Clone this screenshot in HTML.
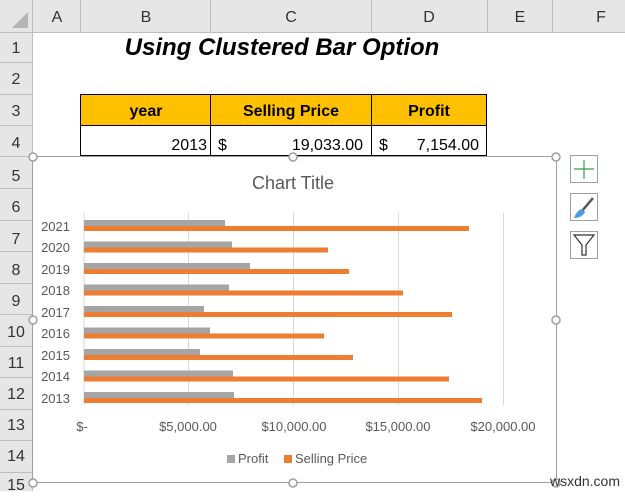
<!DOCTYPE html>
<html><head><meta charset="utf-8"><style>
body{margin:0;width:625px;height:491px;overflow:hidden;background:#fff;font-family:"Liberation Sans",sans-serif}
</style></head><body>
<svg width="625" height="491" xmlns="http://www.w3.org/2000/svg" font-family="Liberation Sans, sans-serif">
<rect width="625" height="491" fill="#fff"/>
<!-- headers -->
<rect x="0" y="0" width="625" height="32" fill="#e6e6e6"/>
<rect x="0" y="0" width="32" height="491" fill="#e6e6e6"/>
<polygon points="28,12 28,28 12,28" fill="#b5b5b5"/>
<g stroke="#bdbdbd" stroke-width="1">
<line x1="0" y1="32.5" x2="625" y2="32.5"/>
<line x1="32.5" y1="0" x2="32.5" y2="491"/>
<line x1="80.5" y1="0" x2="80.5" y2="32"/><line x1="210.5" y1="0" x2="210.5" y2="32"/>
<line x1="371.5" y1="0" x2="371.5" y2="32"/><line x1="487.5" y1="0" x2="487.5" y2="32"/>
<line x1="552.5" y1="0" x2="552.5" y2="32"/>
<line x1="0" y1="62.5" x2="32" y2="62.5"/><line x1="0" y1="94.5" x2="32" y2="94.5"/>
<line x1="0" y1="125.5" x2="32" y2="125.5"/><line x1="0" y1="156.5" x2="32" y2="156.5"/>
<line x1="0" y1="188.5" x2="32" y2="188.5"/><line x1="0" y1="220.5" x2="32" y2="220.5"/>
<line x1="0" y1="251.5" x2="32" y2="251.5"/><line x1="0" y1="283.5" x2="32" y2="283.5"/>
<line x1="0" y1="314.5" x2="32" y2="314.5"/><line x1="0" y1="346.5" x2="32" y2="346.5"/>
<line x1="0" y1="377.5" x2="32" y2="377.5"/><line x1="0" y1="409.5" x2="32" y2="409.5"/>
<line x1="0" y1="440.5" x2="32" y2="440.5"/><line x1="0" y1="472.5" x2="32" y2="472.5"/>
</g>
<g font-size="16" fill="#333" text-anchor="middle">
<text x="57" y="22">A</text><text x="146" y="22">B</text><text x="291" y="22">C</text>
<text x="429" y="22">D</text><text x="520" y="22">E</text><text x="601" y="22">F</text>
<text x="16" y="53">1</text><text x="16" y="84">2</text><text x="16" y="116">3</text>
<text x="16" y="148">4</text><text x="16" y="181">5</text><text x="16" y="212">6</text>
<text x="16" y="244">7</text><text x="16" y="275">8</text><text x="16" y="306">9</text>
<text x="16" y="337">10</text><text x="16" y="368">11</text><text x="16" y="399">12</text>
<text x="16" y="430">13</text><text x="16" y="461">14</text><text x="16" y="490">15</text>
</g>
<text x="282" y="55" font-size="24" font-weight="bold" font-style="italic" text-anchor="middle" fill="#000">Using Clustered Bar Option</text>
<!-- table -->
<rect x="80.5" y="94.5" width="406" height="31" fill="#ffc000" stroke="#000"/>
<rect x="80.5" y="125.5" width="406" height="30" fill="#fff" stroke="#000"/>
<g stroke="#000"><line x1="210.5" y1="94" x2="210.5" y2="156"/><line x1="371.5" y1="94" x2="371.5" y2="156"/></g>
<g font-size="16" font-weight="bold" text-anchor="middle" fill="#000">
<text x="146" y="116">year</text><text x="291" y="116">Selling Price</text><text x="429" y="116">Profit</text></g>
<g font-size="16" fill="#000">
<text x="207" y="150" text-anchor="end">2013</text><text x="218" y="150">$</text>
<text x="363" y="150" text-anchor="end">19,033.00</text><text x="379" y="150">$</text>
<text x="479" y="150" text-anchor="end">7,154.00</text></g>
<!-- chart -->
<rect x="32.5" y="156.5" width="524" height="326" fill="#fff" stroke="#a0a0a0"/>
<g stroke="#a0a0a0" stroke-width="1.5" fill="#fff">
<circle cx="33" cy="157" r="4"/><circle cx="293" cy="157" r="4"/><circle cx="556" cy="157" r="4"/>
<circle cx="33" cy="320" r="4"/><circle cx="556" cy="320" r="4"/>
<circle cx="33" cy="483" r="4"/><circle cx="293" cy="483" r="4"/><circle cx="556" cy="483" r="4"/>
</g>
<text x="293" y="189" font-size="18" fill="#595959" text-anchor="middle">Chart Title</text>
<g stroke="#d9d9d9"><line x1="84" y1="213" x2="84" y2="405"/><line x1="188.5" y1="213" x2="188.5" y2="405"/>
<line x1="293.5" y1="213" x2="293.5" y2="405"/><line x1="398.5" y1="213" x2="398.5" y2="405"/><line x1="503.5" y1="213" x2="503.5" y2="405"/></g>
<g fill="#a5a5a5">
<rect x="84" y="220" width="141" height="6"/><rect x="84" y="241.5" width="148" height="6"/>
<rect x="84" y="263" width="166" height="6"/><rect x="84" y="284.5" width="145" height="6"/>
<rect x="84" y="306" width="120" height="6"/><rect x="84" y="327.5" width="126" height="6"/>
<rect x="84" y="349" width="116" height="6"/><rect x="84" y="370.5" width="149" height="6"/>
<rect x="84" y="392" width="150" height="6"/></g>
<g fill="#ed7d31">
<rect x="84" y="226" width="385" height="5"/><rect x="84" y="247.5" width="244" height="5"/>
<rect x="84" y="269" width="265" height="5"/><rect x="84" y="290.5" width="319" height="5"/>
<rect x="84" y="312" width="368" height="5"/><rect x="84" y="333.5" width="240" height="5"/>
<rect x="84" y="355" width="269" height="5"/><rect x="84" y="376.5" width="365" height="5"/>
<rect x="84" y="398" width="398" height="5"/></g>
<g font-size="13" fill="#595959" text-anchor="end">
<text x="70" y="231">2021</text><text x="70" y="252">2020</text><text x="70" y="274">2019</text>
<text x="70" y="295">2018</text><text x="70" y="317">2017</text><text x="70" y="338">2016</text>
<text x="70" y="360">2015</text><text x="70" y="381">2014</text><text x="70" y="403">2013</text></g>
<g font-size="13" fill="#595959" text-anchor="middle">
<text x="82" y="431">$-</text><text x="188" y="431">$5,000.00</text><text x="294" y="431">$10,000.00</text>
<text x="398" y="431">$15,000.00</text><text x="503" y="431">$20,000.00</text></g>
<rect x="227" y="455" width="8" height="8" fill="#a5a5a5"/>
<text x="238" y="463" font-size="13" fill="#595959">Profit</text>
<rect x="284" y="455" width="8" height="8" fill="#ed7d31"/>
<text x="295" y="463" font-size="13" fill="#595959">Selling Price</text>
<!-- icons -->
<rect x="570.5" y="155.5" width="27" height="27" fill="#fff" stroke="#a0a0a0"/>
<g stroke="#3c9a4a" stroke-width="1.2"><line x1="584" y1="160" x2="584" y2="179"/><line x1="574" y1="169" x2="594" y2="169"/></g>
<rect x="570.5" y="193.5" width="27" height="27" fill="#fff" stroke="#a0a0a0"/>
<line x1="593" y1="198" x2="582" y2="211" stroke="#555" stroke-width="2.5"/>
<path d="M574 218 Q577 210 582 209 L585 212 Q582 218 574 218Z" fill="#4a9be0"/>
<rect x="570.5" y="231.5" width="27" height="27" fill="#fff" stroke="#a0a0a0"/>
<path d="M574 235 L594 235 L586 245 L586 255 L582 255 L582 245 Z" fill="none" stroke="#333" stroke-width="1.2"/>
<text x="620" y="486" font-size="14" fill="#333" text-anchor="end">wsxdn.com</text>
</svg>
</body></html>
